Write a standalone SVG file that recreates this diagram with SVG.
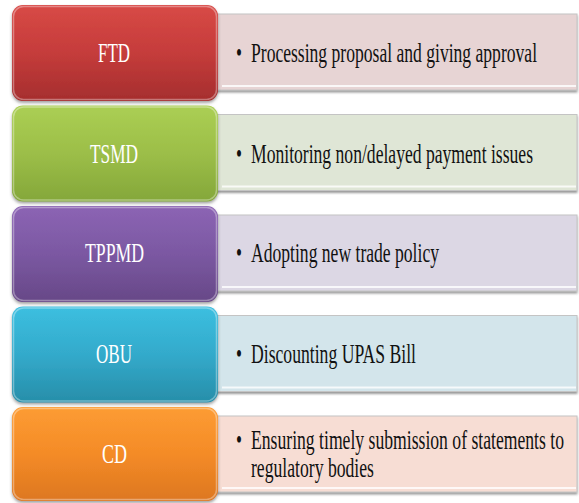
<svg xmlns="http://www.w3.org/2000/svg" width="579" height="503" viewBox="0 0 579 503">
<defs>
<style>
.lbl{font-family:"Liberation Serif","Times New Roman","DejaVu Serif",serif;font-size:28px;fill:#ffffff}
.txt{font-family:"Liberation Serif","Times New Roman","DejaVu Serif",serif;font-size:28px;fill:#111111}
.rbox{stroke:#c4c4c4;stroke-width:1;filter:url(#sh)}
.lbox{filter:url(#sh2)}
.hl{fill:none;stroke:#ffffff;stroke-opacity:0.35;stroke-width:1.5}
.wl{stroke:#ffffff;stroke-opacity:0.8;stroke-width:2}
</style>
<filter id="sh" x="-5%" y="-10%" width="110%" height="130%">
<feDropShadow dx="0" dy="2" stdDeviation="1" flood-color="#555555" flood-opacity="0.6"/>
</filter>
<filter id="sh2" x="-5%" y="-10%" width="110%" height="130%">
<feDropShadow dx="0" dy="2" stdDeviation="1.5" flood-color="#444444" flood-opacity="0.5"/>
</filter>
<linearGradient id="gR" x1="0" y1="0" x2="0" y2="1"><stop offset="0" stop-color="#d84a46"/><stop offset="0.5" stop-color="#c53c3b"/><stop offset="1" stop-color="#a52e2e"/></linearGradient>
<linearGradient id="gG" x1="0" y1="0" x2="0" y2="1"><stop offset="0" stop-color="#abcf54"/><stop offset="0.5" stop-color="#9cbe48"/><stop offset="1" stop-color="#84a73a"/></linearGradient>
<linearGradient id="gP" x1="0" y1="0" x2="0" y2="1"><stop offset="0" stop-color="#8c64b4"/><stop offset="0.5" stop-color="#7b58a2"/><stop offset="1" stop-color="#674887"/></linearGradient>
<linearGradient id="gB" x1="0" y1="0" x2="0" y2="1"><stop offset="0" stop-color="#3cbfe0"/><stop offset="0.5" stop-color="#33aacb"/><stop offset="1" stop-color="#278ea9"/></linearGradient>
<linearGradient id="gO" x1="0" y1="0" x2="0" y2="1"><stop offset="0" stop-color="#fd9c33"/><stop offset="0.5" stop-color="#f48b27"/><stop offset="1" stop-color="#dd7720"/></linearGradient>
</defs>
<rect width="579" height="503" fill="#ffffff"/>
<g id="connectors"></g>

<g id="ftd">
<rect class="rbox" x="210" y="14" width="367" height="76" fill="#e7d4d4"/>
<line class="wl" x1="222" y1="86" x2="576" y2="86"/>
<rect class="lbox" x="12" y="5" width="206" height="96" rx="11" fill="url(#gR)"/>
<rect class="hl" x="13.5" y="6.5" width="203" height="93" rx="10"/>
<text class="lbl" transform="translate(98,61.5) scale(0.63,1)" textLength="50.8" lengthAdjust="spacingAndGlyphs">FTD</text>
<text class="txt" transform="translate(236,61.5) scale(0.63,1)" textLength="9.5" lengthAdjust="spacingAndGlyphs">•</text>
<text class="txt" transform="translate(251,61.5) scale(0.63,1)" textLength="454" lengthAdjust="spacingAndGlyphs">Processing proposal and giving approval</text>
</g>

<g id="tsmd">
<rect class="rbox" x="210" y="114.5" width="367" height="76" fill="#dfe6d6"/>
<line class="wl" x1="222" y1="186.5" x2="576" y2="186.5"/>
<rect class="lbox" x="12" y="105.5" width="206" height="96" rx="11" fill="url(#gG)"/>
<rect class="hl" x="13.5" y="107" width="203" height="93" rx="10"/>
<text class="lbl" transform="translate(90,163) scale(0.63,1)" textLength="76.2" lengthAdjust="spacingAndGlyphs">TSMD</text>
<text class="txt" transform="translate(236,163) scale(0.63,1)" textLength="9.5" lengthAdjust="spacingAndGlyphs">•</text>
<text class="txt" transform="translate(251,163) scale(0.63,1)" textLength="447.6" lengthAdjust="spacingAndGlyphs">Monitoring non/delayed payment issues</text>
</g>

<g id="tppmd">
<rect class="rbox" x="210" y="215" width="367" height="76" fill="#dcd7e4"/>
<line class="wl" x1="222" y1="287" x2="576" y2="287"/>
<rect class="lbox" x="12" y="206" width="206" height="96" rx="11" fill="url(#gP)"/>
<rect class="hl" x="13.5" y="207.5" width="203" height="93" rx="10"/>
<text class="lbl" transform="translate(85,262) scale(0.63,1)" textLength="93.7" lengthAdjust="spacingAndGlyphs">TPPMD</text>
<text class="txt" transform="translate(236,262) scale(0.63,1)" textLength="9.5" lengthAdjust="spacingAndGlyphs">•</text>
<text class="txt" transform="translate(251,262) scale(0.63,1)" textLength="298.4" lengthAdjust="spacingAndGlyphs">Adopting new trade policy</text>
</g>

<g id="obu">
<rect class="rbox" x="210" y="315.5" width="367" height="76" fill="#d3e5eb"/>
<line class="wl" x1="222" y1="387.5" x2="576" y2="387.5"/>
<rect class="lbox" x="12" y="306.5" width="206" height="96" rx="11" fill="url(#gB)"/>
<rect class="hl" x="13.5" y="308" width="203" height="93" rx="10"/>
<text class="lbl" transform="translate(96,363) scale(0.63,1)" textLength="57.1" lengthAdjust="spacingAndGlyphs">OBU</text>
<text class="txt" transform="translate(236,363) scale(0.63,1)" textLength="9.5" lengthAdjust="spacingAndGlyphs">•</text>
<text class="txt" transform="translate(251,363) scale(0.63,1)" textLength="261.9" lengthAdjust="spacingAndGlyphs">Discounting UPAS Bill</text>
</g>

<g id="cd">
<rect class="rbox" x="210" y="416" width="367" height="76" fill="#f7ddd4"/>
<line class="wl" x1="222" y1="488" x2="576" y2="488"/>
<rect class="lbox" x="12" y="407" width="206" height="94" rx="11" fill="url(#gO)"/>
<rect class="hl" x="13.5" y="408.5" width="203" height="91" rx="10"/>
<text class="lbl" transform="translate(102,463) scale(0.63,1)" textLength="39.7" lengthAdjust="spacingAndGlyphs">CD</text>
<text class="txt" transform="translate(236,448.5) scale(0.63,1)" textLength="9.5" lengthAdjust="spacingAndGlyphs">•</text>
<text class="txt" transform="translate(251,448.5) scale(0.63,1)" textLength="496.8" lengthAdjust="spacingAndGlyphs">Ensuring timely submission of statements to</text>
<text class="txt" transform="translate(251,476.5) scale(0.63,1)" textLength="195.2" lengthAdjust="spacingAndGlyphs">regulatory bodies</text>
</g>
</svg>
